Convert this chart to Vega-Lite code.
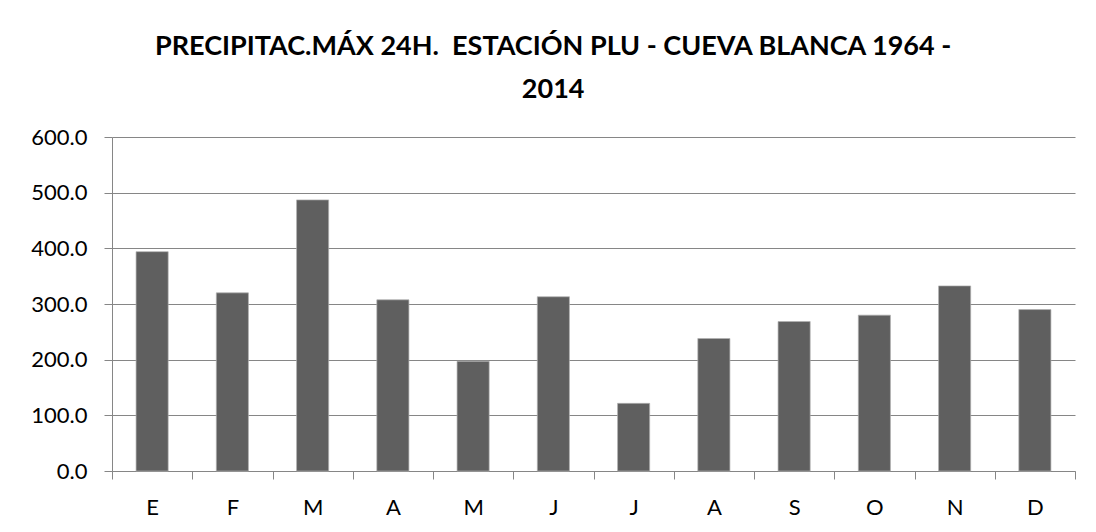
{
  "$schema": "https://vega.github.io/schema/vega-lite/v6.json",
  "width": 963,
  "height": 334,
  "autosize": {"type": "none"},
  "padding": {"left": 112, "top": 137, "right": 21, "bottom": 60},
  "background": "white",
  "title": {
    "text": ["PRECIPITAC.MÁX 24H.\u00a0 ESTACIÓN PLU - CUEVA BLANCA 1964 -", "2014"],
    "font": "Lato",
    "fontSize": 27,
    "fontWeight": "bold",
    "color": "black",
    "anchor": "middle",
    "frame": "bounds",
    "lineHeight": 43,
    "offset": 22
  },
  "data": {
    "values": [
      {"mes": "Enero", "precip": 394},
      {"mes": "Febrero", "precip": 320},
      {"mes": "Marzo", "precip": 487},
      {"mes": "Abril", "precip": 307.5},
      {"mes": "Mayo", "precip": 197},
      {"mes": "Junio", "precip": 313},
      {"mes": "Julio", "precip": 121.5},
      {"mes": "Agosto", "precip": 238},
      {"mes": "Septiembre", "precip": 268.5},
      {"mes": "Octubre", "precip": 280},
      {"mes": "Noviembre", "precip": 332.5},
      {"mes": "Diciembre", "precip": 290}
    ]
  },
  "mark": {"type": "bar", "width": {"band": 0.4}, "color": "#5f5f5f", "stroke": "#b0b0b0", "strokeWidth": 0.7},
  "encoding": {
    "x": {
      "field": "mes",
      "type": "nominal",
      "sort": null,
      "scale": {"paddingInner": 0, "paddingOuter": 0},
      "axis": {
        "title": null,
        "labelExpr": "upper(substring(datum.label, 0, 1))",
        "labelAngle": 0,
        "labelFont": "Lato",
        "labelFontSize": 22,
        "labelColor": "black",
        "labelPadding": 18,
        "tickBand": "extent",
        "tickSize": 8,
        "tickColor": "#868686",
        "domainColor": "#868686",
        "grid": false
      }
    },
    "y": {
      "field": "precip",
      "type": "quantitative",
      "scale": {"domain": [0, 600], "nice": false},
      "axis": {
        "title": null,
        "values": [0, 100, 200, 300, 400, 500, 600],
        "format": ".1f",
        "labelFont": "Lato",
        "labelFontSize": 22,
        "labelColor": "black",
        "labelPadding": 17,
        "tickSize": 8,
        "tickColor": "#868686",
        "domainColor": "#868686",
        "gridColor": "#868686",
        "grid": true
      }
    }
  },
  "config": {"view": {"stroke": null}}
}
